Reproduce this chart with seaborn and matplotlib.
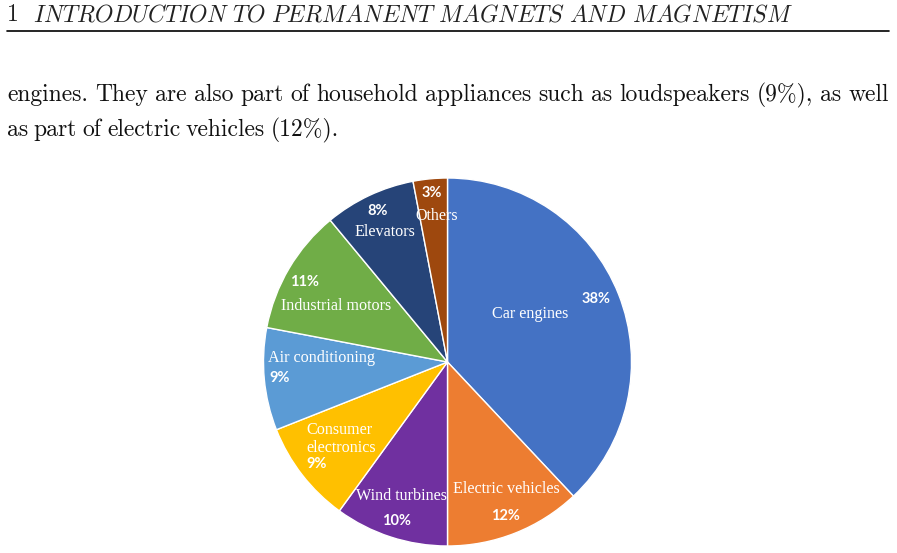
import numpy as np
import matplotlib
matplotlib.use('Agg')
import matplotlib.pyplot as plt
import seaborn as sns

# data
categories = ['Car engines', 'Electric vehicles', 'Wind turbines', 'Consumer\nelectronics',
              'Air conditioning', 'Industrial motors', 'Elevators', 'Others']
shares = [38, 12, 10, 9, 9, 11, 8, 3]
colors = ['#4472C4', '#ED7D31', '#7030A0', '#FFC000', '#5B9BD5', '#70AD47', '#264478', '#9E480E']

header_num = '1'
header_text = 'INTRODUCTION TO PERMANENT MAGNETS AND MAGNETISM'
body_lines = ['engines. They are also part of household appliances such as loudspeakers (9%), as well',
              'as part of electric vehicles (12%).']

# label layout in pixels (x, y, ha)
name_pos = [(530, 314, 'center'), (506, 489, 'center'), (401, 496, 'center'), (306, 439, 'left'),
            (268, 358, 'left'), (336, 306, 'center'), (385, 232, 'center'), (437, 216, 'center')]
pct_pos = [(596, 299, 'center'), (505, 516, 'center'), (397, 521, 'center'), (306, 464, 'left'),
           (269, 378, 'left'), (305, 282, 'center'), (378, 211, 'center'), (432, 193, 'center')]

sns.set_theme(style="white")
plt.rcParams['mathtext.fontset'] = 'cm'

W, H = 897, 553
fig = plt.figure(figsize=(W / 100, H / 100), dpi=100)
fig.patch.set_facecolor('white')

# header
fig.text(7 / W, 1 - 15 / H, header_num, fontfamily='cmr10', fontsize=17, va='center', ha='left', color='#222222')
fig.text(33 / W, 1 - 15 / H, r'$\mathit{' + header_text.replace(' ', r'\ ') + '}$',
         fontsize=17, va='center', ha='left', color='#222222')
fig.add_artist(plt.Line2D([7 / W, 889 / W], [1 - 31 / H, 1 - 31 / H], color='black', lw=1.2))

# body text, word by word (first line justified)
fig.canvas.draw()
renderer = fig.canvas.get_renderer()


def place_line(text, y, target=None, gap=5.5):
    words = text.split(' ')
    arts = [fig.text(0, 1 - y / H, w, fontfamily='cmr10', fontsize=17, va='center', ha='left',
                     color='#111111') for w in words]
    widths = [a.get_window_extent(renderer).width for a in arts]
    if target is not None:
        gap = (target - sum(widths)) / (len(words) - 1)
    x = 7
    for a, w in zip(arts, widths):
        a.set_x(x / W)
        x += w + gap


place_line(body_lines[0], 95, target=882)
place_line(body_lines[1], 130)

# pie
cx, cy, r = 447.5, 362, 184
ax = fig.add_axes([(cx - r) / W, (H - cy - r) / H, 2 * r / W, 2 * r / H])
ax.pie(shares, colors=colors, startangle=90, counterclock=False,
       wedgeprops={'edgecolor': 'white', 'linewidth': 1})
ax.set_xlim(-1, 1)
ax.set_ylim(-1, 1)
ax.axis('off')

for name, share, (nx, ny, nha), (px, py, pha) in zip(categories, shares, name_pos, pct_pos):
    ax.text((nx - cx) / r, (cy - ny) / r, name, ha=nha, va='center', color='white',
            fontfamily='Liberation Serif', fontsize=11.6, linespacing=1.2)
    ax.text((px - cx) / r, (cy - py) / r, f'{share}%', ha=pha, va='center', color='white',
            fontfamily='Lato', fontweight='bold', fontsize=10.5)

plt.savefig('out.png', dpi=100)
plt.close()
